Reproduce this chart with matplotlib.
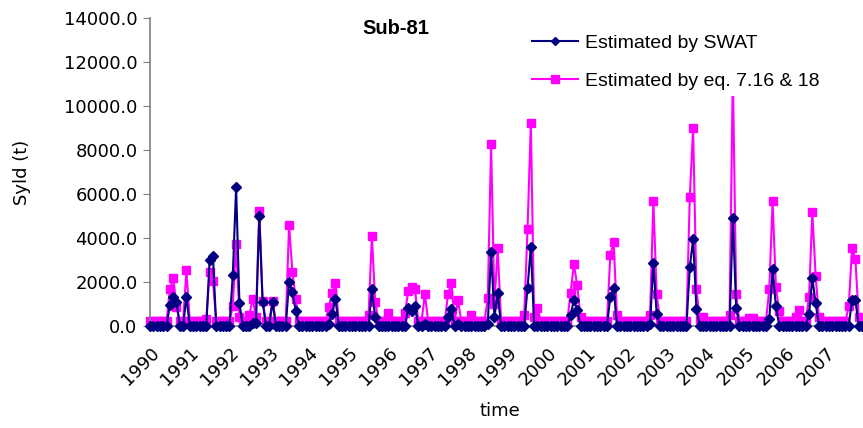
import numpy as np
import matplotlib
matplotlib.use("Agg")
import matplotlib.pyplot as plt
from matplotlib.transforms import ScaledTranslation

years = list(range(1990, 2008))

# Monthly sediment yield (t), January 1990 to December 2007
swat = [
    20, 20, 20, 20, 20, 20, 950, 1320, 1100, 20, 20, 1320,      # 1990
    20, 20, 20, 20, 20, 20, 3000, 3180, 20, 20, 20, 20,         # 1991
    20, 2320, 6300, 1050, 20, 20, 20, 150, 150, 5000, 1100, 20, # 1992
    20, 1100, 20, 20, 20, 20, 2000, 1550, 700, 20, 20, 20,      # 1993
    20, 20, 20, 20, 20, 20, 100, 550, 1230, 20, 20, 20,         # 1994
    20, 20, 20, 20, 20, 20, 20, 1680, 400, 20, 20, 20,          # 1995
    20, 20, 20, 20, 20, 20, 800, 700, 900, 20, 20, 100,         # 1996
    20, 20, 20, 20, 20, 20, 400, 770, 20, 100, 20, 20,          # 1997
    20, 20, 20, 20, 20, 20, 100, 3360, 400, 1500, 20, 20,       # 1998
    20, 20, 20, 20, 20, 20, 1730, 3600, 20, 20, 20, 20,         # 1999
    20, 20, 20, 20, 20, 20, 20, 500, 1180, 730, 20, 20,         # 2000
    20, 20, 20, 20, 20, 20, 20, 1320, 1730, 20, 20, 20,         # 2001
    20, 20, 20, 20, 20, 20, 20, 100, 2860, 550, 20, 20,         # 2002
    20, 20, 20, 20, 20, 20, 20, 2680, 3950, 780, 20, 20,        # 2003
    20, 20, 20, 20, 20, 20, 20, 20, 4900, 820, 20, 20,          # 2004
    20, 20, 20, 20, 20, 20, 20, 300, 2590, 900, 20, 20,         # 2005
    20, 20, 20, 20, 20, 20, 20, 550, 2180, 1040, 20, 20,        # 2006
    20, 20, 20, 20, 20, 20, 20, 20, 1180, 1180, 20, 20,         # 2007
]

eq = [
    220, 250, 250, 220, 220, 220, 1680, 2180, 860, 220, 220, 2540,    # 1990
    220, 220, 220, 220, 220, 300, 2450, 2050, 220, 220, 220, 220,     # 1991
    220, 900, 3720, 400, 220, 220, 500, 1250, 400, 5230, 1150, 220,   # 1992
    220, 1150, 220, 220, 220, 220, 4600, 2450, 1250, 220, 220, 220,   # 1993
    220, 220, 220, 220, 220, 220, 860, 1500, 1950, 220, 220, 220,     # 1994
    220, 220, 220, 220, 220, 220, 500, 4100, 1100, 220, 220, 220,     # 1995
    600, 220, 220, 220, 220, 600, 1600, 1780, 1700, 220, 220, 1450,   # 1996
    220, 220, 220, 220, 220, 220, 1450, 1950, 220, 1180, 220, 220,    # 1997
    220, 500, 220, 220, 220, 220, 1270, 8270, 1000, 3550, 220, 220,   # 1998
    220, 220, 220, 220, 220, 500, 4400, 9230, 400, 800, 220, 220,     # 1999
    220, 220, 220, 220, 220, 220, 220, 1500, 2800, 1870, 400, 220,    # 2000
    220, 220, 220, 220, 220, 220, 220, 3230, 3820, 500, 220, 220,     # 2001
    220, 220, 220, 220, 220, 220, 220, 500, 5680, 1450, 220, 220,     # 2002
    220, 220, 220, 220, 220, 220, 220, 5870, 9000, 1680, 300, 400,    # 2003
    220, 220, 220, 220, 220, 220, 220, 500, 11500, 1450, 220, 220,    # 2004
    220, 350, 350, 220, 220, 220, 220, 1680, 5680, 1770, 680, 220,    # 2005
    220, 220, 220, 400, 730, 220, 220, 1320, 5180, 2270, 400, 220,    # 2006
    220, 220, 220, 220, 220, 220, 220, 900, 3550, 3050, 400, 220,     # 2007
]

x = np.arange(len(swat))

fig = plt.figure(figsize=(8.63, 4.28), dpi=100)
ax = fig.add_axes([150 / 863, 102 / 428, 713 / 863, 308 / 428])

ax.plot(x, swat, color="#000080", lw=1.5, marker="D", ms=5,
        mec="#000080", mfc="#000080", clip_on=False, zorder=3,
        label="Estimated by SWAT")
ax.plot(x, eq, color="#FF00FF", lw=1.5, marker="s", ms=6,
        mec="#FF00FF", mfc="#FF00FF", clip_on=False, zorder=2,
        label="Estimated by eq. 7.16 & 18")

ax.set_xlim(0, len(swat) - 1 + 0.3)
ax.set_ylim(0, 14000)
ax.set_yticks(np.arange(0, 14001, 2000))
ax.set_yticklabels([f"{v:.1f}" for v in np.arange(0, 14001, 2000)])
ax.set_xticks(np.arange(0, len(swat), 12))
ax.set_xticklabels([str(y) for y in years], rotation=45, ha="right",
                   rotation_mode="anchor")
shift = ScaledTranslation(-12 / 100, 0, fig.dpi_scale_trans)
for lab in ax.get_xticklabels():
    lab.set_transform(lab.get_transform() + shift)

for side in ("top", "right"):
    ax.spines[side].set_visible(False)
for side in ("left", "bottom"):
    ax.spines[side].set_color("#808080")
    ax.spines[side].set_linewidth(1.2)

ax.tick_params(axis="y", length=5, color="#808080", labelsize=13, pad=4)
ax.tick_params(axis="x", length=0, labelsize=13, pad=13)

fig.text(22 / 863, 1 - 172 / 428, "Syld (t)", rotation=90, fontsize=13,
         ha="center", va="center")
fig.text(500 / 863, 1 - 411 / 428, "time", fontsize=13, ha="center",
         va="center")
fig.text(396 / 863, 1 - 28 / 428, "Sub-81", fontsize=14.5,
         fontweight="bold", family="Liberation Sans", ha="center",
         va="center")

leg = ax.legend(loc="upper left", bbox_to_anchor=(516 / 863, 1 - 19 / 428),
                bbox_transform=fig.transFigure, frameon=True,
                framealpha=1, edgecolor="none", facecolor="white",
                prop={"family": "Liberation Sans", "size": 14},
                handlelength=2.4, handletextpad=0.35, labelspacing=1.05,
                borderpad=0.3, markerscale=0.9)
leg.set_zorder(5)

fig.savefig("out.png", dpi=100)
